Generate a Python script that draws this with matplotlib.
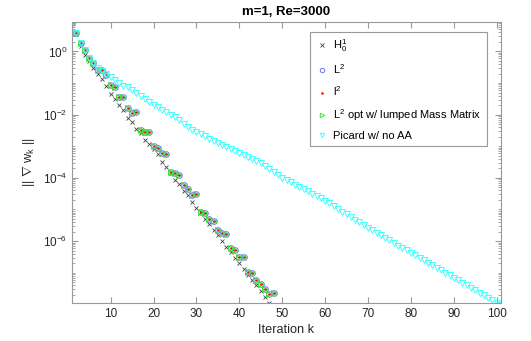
import numpy as np
import matplotlib
matplotlib.use('Agg')
import matplotlib.pyplot as plt
from matplotlib.ticker import LogLocator, FixedLocator, NullFormatter

plt.rcParams['font.family'] = ['Liberation Sans', 'DejaVu Sans']
plt.rcParams['mathtext.fontset'] = 'custom'
plt.rcParams['mathtext.rm'] = 'Liberation Sans'
plt.rcParams['mathtext.it'] = 'Liberation Sans:italic'

# log10 of ||grad w_k||
h01_log = [0.91, 0.55, 0.18, -0.10, -0.30, -0.52, -0.70, -0.87, -1.10, -1.34,
           -1.52, -1.71, -1.84, -2.10, -2.22, -2.45, -2.58, -2.79, -2.93, -3.10,
           -3.25, -3.49, -3.66, -3.85, -4.07, -4.20, -4.42, -4.55, -4.77, -4.94,
           -5.08, -5.29, -5.45, -5.66, -5.82, -6.01, -6.18, -6.35, -6.53, -6.70,
           -6.89, -7.06, -7.24, -7.40, -7.59, -7.77, -7.96]
l2_log = [0.91, 0.59, 0.28, 0.06, -0.20, -0.36, -0.58, -0.60, -0.73, -1.05,
          -1.13, -1.45, -1.45, -1.80, -1.96, -1.93, -2.48, -2.56, -2.56, -2.98,
          -3.07, -3.22, -3.24, -3.80, -3.86, -3.91, -4.23, -4.36, -4.54, -4.52,
          -5.08, -5.12, -5.31, -5.37, -5.66, -5.75, -5.76, -6.21, -6.29, -6.51,
          -6.49, -6.97, -7.02, -7.22, -7.36, -7.51, -7.66, -7.63]
picard_log = [0.91, 0.59, 0.28, 0.06, -0.20, -0.36, -0.52, -0.62, -0.72, -0.82,
              -0.90, -0.99, -1.08, -1.14, -1.21, -1.31, -1.40, -1.50, -1.59, -1.68,
              -1.77, -1.85, -1.93, -2.01, -2.08, -2.18, -2.28, -2.38, -2.47, -2.55,
              -2.62, -2.69, -2.76, -2.83, -2.89, -2.95, -3.01, -3.08, -3.14, -3.21,
              -3.27, -3.33, -3.40, -3.46, -3.52, -3.62, -3.71, -3.81, -3.90, -3.99,
              -4.06, -4.13, -4.21, -4.28, -4.35, -4.43, -4.50, -4.58, -4.65, -4.73,
              -4.81, -4.90, -4.98, -5.07, -5.15, -5.24, -5.32, -5.41, -5.49, -5.58,
              -5.66, -5.74, -5.82, -5.90, -5.98, -6.06, -6.14, -6.22, -6.29, -6.37,
              -6.45, -6.53, -6.61, -6.69, -6.77, -6.85, -6.93, -7.00, -7.08, -7.16,
              -7.24, -7.32, -7.40, -7.48, -7.56, -7.63, -7.71, -7.79, -7.87, -7.95,
              -8.03]

labels = [r'H$^1_0$', r'L$^2$', r'l$^2$', r'L$^2$ opt w/ lumped Mass Matrix',
          'Picard w/ no AA']

k_h01 = np.arange(1, len(h01_log) + 1)
k_l2 = np.arange(1, len(l2_log) + 1)
k_pic = np.arange(1, len(picard_log) + 1)

fig = plt.figure(figsize=(5.31, 3.41), dpi=100)
ax = fig.add_axes([0.1356, 0.1114, 0.808, 0.824])

ax.semilogy(k_h01, 10.0 ** np.array(h01_log), 'x', color='#404040', ms=3, mew=0.6,
            label=labels[0])
ax.semilogy(k_l2, 10.0 ** np.array(l2_log), 'o', color='#7070ff', mfc='none', ms=4,
            mew=0.7, label=labels[1])
ax.semilogy(k_l2, 10.0 ** np.array(l2_log), '.', color='red', ms=2, label=labels[2])
ax.semilogy(k_l2, 10.0 ** np.array(l2_log), '>', color='#40e040', mfc='none', ms=4,
            mew=0.7, label=labels[3])
ax.semilogy(k_pic, 10.0 ** np.array(picard_log), 'v', color='#40ffff', mfc='none',
            ms=4, mew=0.7, label=labels[4])

ax.set_xlim(1, 101)
ax.set_ylim(1.1e-8, 10 ** 0.93)
ax.set_xticks(range(10, 101, 10))
ax.yaxis.set_major_locator(FixedLocator([1e-6, 1e-4, 1e-2, 1e0]))
ax.yaxis.set_minor_locator(LogLocator(base=10, subs=np.arange(1, 10), numticks=30))
ax.yaxis.set_minor_formatter(NullFormatter())

for side in ax.spines.values():
    side.set_color('#999999')
    side.set_linewidth(0.8)
ax.tick_params(which='both', direction='in', top=True, right=True, colors='#999999',
               labelcolor='#262626', labelsize=8.5)
ax.tick_params(which='major', length=4)
ax.tick_params(which='minor', length=2)

ax.set_xlabel('Iteration k', fontsize=9.2, color='#262626', labelpad=3)
ax.set_ylabel(r'|| $\nabla$ w$_{\rm k}$ ||', fontsize=9.2, color='#262626', labelpad=4)
ax.set_title('m=1, Re=3000', fontsize=9.5, fontweight='bold', pad=5)

leg = ax.legend(loc='upper right', fontsize=8, fancybox=False, framealpha=1,
                edgecolor='#999999', handletextpad=0.4, labelspacing=0.75,
                borderpad=0.5, markerscale=0.8, handlelength=1.2,
                bbox_to_anchor=(0.98, 0.985))
leg.get_frame().set_linewidth(0.8)

fig.savefig('out.png', dpi=100, facecolor='white')
